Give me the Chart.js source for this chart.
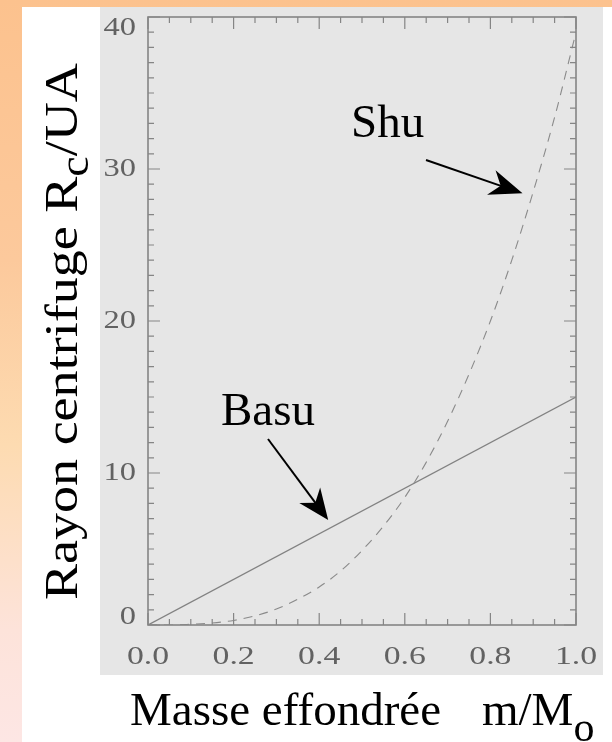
<!DOCTYPE html>
<html>
<head>
<meta charset="utf-8">
<title>Rayon centrifuge</title>
<script src="https://cdn.jsdelivr.net/npm/chart.js@4.4.1/dist/chart.umd.min.js"></script>
<style>
  body { margin:0; width:612px; height:742px; position:relative; overflow:hidden;
         background:linear-gradient(to bottom,#fcc28e 0%,#fcc99c 35%,#fddbb1 60%,#fde3da 85%,#fde6e4 100%); }
  #page  { position:absolute; left:22px; top:7px; right:0; bottom:0; background:#ffffff; }
  #panel { position:absolute; left:100px; top:7px; width:503px; height:668px; background:#e6e6e6; }
  #wrap  { position:absolute; left:0; top:0; width:612px; height:742px; }
</style>
</head>
<body>
<div id="page"></div>
<div id="panel"></div>
<div id="wrap"><canvas id="canvas" width="612" height="742"></canvas></div>

<script>
// masse effondree m/M (abscisse)
var masse = [0, 0.05, 0.1, 0.15, 0.2, 0.25, 0.3, 0.35, 0.4, 0.45, 0.5,
             0.55, 0.6, 0.65, 0.7, 0.75, 0.8, 0.85, 0.9, 0.95, 1.0];
// rayon centrifuge Rc/UA - modele de Shu (tirets)
var rayonShu = [0, 0, 0.05, 0.13, 0.3, 0.6, 1.05, 1.7, 2.5, 3.55, 4.9,
                6.5, 8.4, 10.7, 13.4, 16.5, 20.0, 24.0, 28.5, 33.4, 39.0];
// modele de Basu (droite)
var masseBasu = [0, 1.0];
var rayonBasu = [0, 15];

// graduations
var xTicks = [0, 0.2, 0.4, 0.6, 0.8, 1.0];
var xTickLabels = ['0.0', '0.2', '0.4', '0.6', '0.8', '1.0'];
var yTicks = [0, 10, 20, 30, 40];
var yTickLabels = ['0', '10', '20', '30', '40'];

function points(xs, ys){
  var arr = [];
  for (var i = 0; i < xs.length; i++) {
    arr.push({x: xs[i], y: ys[i]});
  }
  return arr;
}

// texte etire horizontalement (chiffres des axes)
function stretchText(ctx, txt, x, y, sx){
  ctx.save();
  ctx.translate(x, y);
  ctx.scale(sx, 1);
  ctx.fillText(txt, 0, 0);
  ctx.restore();
}

// fleche noire avec pointe pleine
function arrow(ctx, x0, y0, x1, y1, len, half){
  var a = Math.atan2(y1 - y0, x1 - x0);
  var c = Math.cos(a), s = Math.sin(a);
  ctx.save();
  ctx.strokeStyle = '#000';
  ctx.fillStyle = '#000';
  ctx.lineWidth = 2;
  ctx.beginPath();
  ctx.moveTo(x0, y0);
  ctx.lineTo(x1 - c * len * 0.6, y1 - s * len * 0.6);
  ctx.stroke();
  ctx.beginPath();
  ctx.moveTo(x1, y1);
  ctx.lineTo(x1 - c * len - s * half, y1 - s * len + c * half);
  ctx.lineTo(x1 - c * len * 0.7, y1 - s * len * 0.7);
  ctx.lineTo(x1 - c * len + s * half, y1 - s * len - c * half);
  ctx.closePath();
  ctx.fill();
  ctx.restore();
}

// cadre, graduations, titres et annotations
var cadre = {
  id: 'cadre',
  afterDatasetsDraw: function(chart){
    var ctx = chart.ctx;
    var xs = chart.scales.x, ys = chart.scales.y;
    var area = chart.chartArea;
    var i, p;

    ctx.save();
    ctx.strokeStyle = '#858585';
    ctx.lineWidth = 1.6;
    ctx.strokeRect(area.left, area.top, area.right - area.left, area.bottom - area.top);

    ctx.lineWidth = 1.2;
    ctx.beginPath();
    // petites graduations y (tous les 1) et grandes (tous les 10)
    for (i = 0; i <= 40; i++) {
      p = ys.getPixelForValue(i);
      var ly = (i % 10 === 0) ? 12 : 6;
      ctx.moveTo(area.left, p);  ctx.lineTo(area.left + ly, p);
      ctx.moveTo(area.right, p); ctx.lineTo(area.right - ly, p);
    }
    // graduations x (tous les 0.05, grandes tous les 0.2)
    for (i = 0; i <= 20; i++) {
      p = xs.getPixelForValue(i * 0.05);
      var lx = (i % 4 === 0) ? 12 : 6;
      ctx.moveTo(p, area.bottom); ctx.lineTo(p, area.bottom - lx);
      ctx.moveTo(p, area.top);    ctx.lineTo(p, area.top + lx);
    }
    ctx.stroke();

    // chiffres des axes
    ctx.fillStyle = '#626262';
    ctx.font = '25px "Liberation Serif"';
    ctx.textBaseline = 'middle';
    ctx.textAlign = 'right';
    for (i = 0; i < yTicks.length; i++) {
      p = ys.getPixelForValue(yTicks[i]);
      p = Math.min(Math.max(p, area.top + 11), area.bottom - 8);
      stretchText(ctx, yTickLabels[i], 136, p, 1.3);
    }
    ctx.textAlign = 'center';
    for (i = 0; i < xTicks.length; i++) {
      p = xs.getPixelForValue(xTicks[i]);
      stretchText(ctx, xTickLabels[i], p, 657, 1.35);
    }

    // titres des axes
    ctx.fillStyle = '#000';
    ctx.textBaseline = 'alphabetic';
    ctx.textAlign = 'left';
    ctx.font = '47px "Liberation Serif"';
    ctx.fillText('Masse effondrée', 130, 725);
    ctx.fillText('m/M', 482, 725);
    var wm = ctx.measureText('m/M').width;
    ctx.font = '42px "Liberation Serif"';
    ctx.fillText('o', 482 + wm, 741);

    ctx.save();
    ctx.translate(77, 600);
    ctx.rotate(-Math.PI / 2);
    ctx.scale(1.15, 1);
    ctx.font = '47px "Liberation Serif"';
    var t1 = 'Rayon centrifuge R';
    ctx.fillText(t1, 0, 0);
    var w1 = ctx.measureText(t1).width;
    ctx.font = '40px "Liberation Serif"';
    ctx.fillText('c', w1, 11);
    var w2 = ctx.measureText('c').width;
    ctx.font = '47px "Liberation Serif"';
    ctx.fillText('/UA', w1 + w2, 0);
    ctx.restore();

    // annotations
    ctx.font = '47px "Liberation Serif"';
    ctx.fillText('Shu', 351, 137);
    ctx.fillText('Basu', 221, 425);
    arrow(ctx, 426, 160, xs.getPixelForValue(0.875), ys.getPixelForValue(28.4), 33, 13);
    arrow(ctx, 268, 439, xs.getPixelForValue(0.421), ys.getPixelForValue(6.9), 31, 13);
    ctx.restore();
  }
};

function show_chart(){
  var config = {
    type: 'line',
    data: {
      datasets: [{
        label: 'Shu',
        data: points(masse, rayonShu),
        borderColor: '#8a8a8a',
        borderWidth: 1.1,
        borderDash: [9, 7],
        pointRadius: 0,
        cubicInterpolationMode: 'monotone',
        fill: false
      }, {
        label: 'Basu',
        data: points(masseBasu, rayonBasu),
        borderColor: '#828282',
        borderWidth: 1.3,
        pointRadius: 0,
        fill: false
      }]
    },
    options: {
      responsive: false,
      animation: false,
      layout: { padding: { left: 148, right: 36, top: 17, bottom: 117 } },
      plugins: { legend: { display: false }, tooltip: { enabled: false } },
      scales: {
        x: { type: 'linear', min: 0, max: 1, display: false },
        y: { type: 'linear', min: 0, max: 40, display: false }
      }
    },
    plugins: [cadre]
  };
  var ctx = document.getElementById('canvas').getContext('2d');
  window.myLine = new Chart(ctx, config);
}

show_chart();
</script>
</body>
</html>
